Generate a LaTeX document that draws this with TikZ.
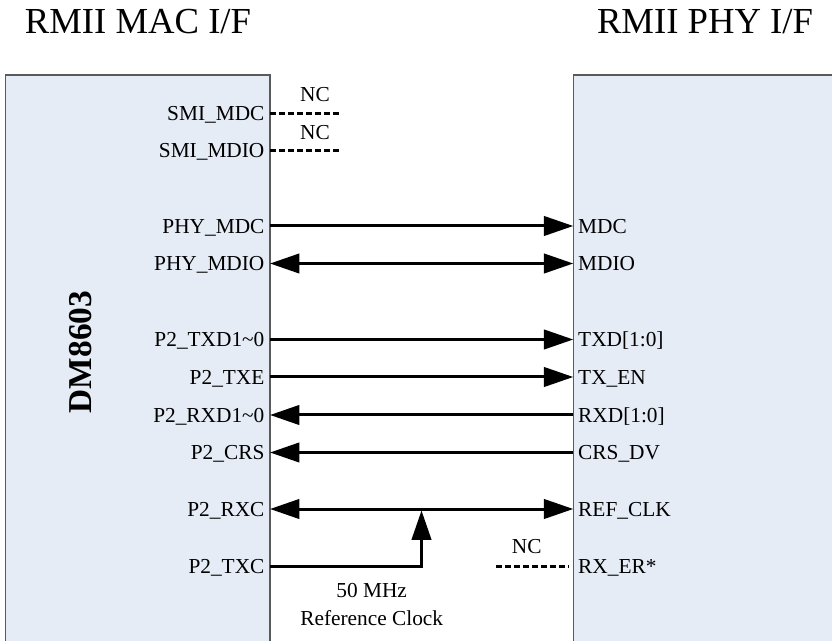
\documentclass[tikz,border=0pt]{standalone}
\usepackage{fontspec}
\setmainfont{Liberation Serif}
\usetikzlibrary{arrows.meta}
\definecolor{chipfill}{HTML}{E5ECF6}
\definecolor{chipline}{HTML}{5A5A5A}
\tikzset{bigtri/.tip={Triangle[length=22pt,width=14.5pt]}}
\begin{document}
\begin{tikzpicture}[x=0.75pt,y=-0.75pt,
    pintext/.style={font=\fontsize{16}{18}\selectfont,text height=10.6pt,text depth=0pt},
    sig/.style={line width=2.25pt,arrows={-bigtri}},
    bisig/.style={line width=2.25pt,arrows={bigtri-bigtri}},
    nc/.style={line width=1.8pt,dash pattern=on 4.5pt off 2.25pt},
    chip/.style={draw=chipline,fill=chipfill,line width=1.1pt,inner sep=0pt}]
  \useasboundingbox (0,0) rectangle (832,641);
  \node[anchor=base,font=\fontsize{27.5}{30}\selectfont] (macT) at (138,33.3) {RMII MAC I/F};
  \node[anchor=base,font=\fontsize{27.5}{30}\selectfont] (phyT) at (705,33.3) {RMII PHY I/F};
  \node[chip,minimum width=198.4pt,minimum height=438.75pt] (mac) at (137.75,367.5) {};
  \node[chip,minimum width=215pt,minimum height=438.75pt] (phy) at (716.65,367.5) {};
  \node[rotate=90,font=\fontsize{25}{28}\selectfont\bfseries] (chipname) at (81,352) {DM8603};
  \begin{scope}[every node/.style={pintext,anchor=east,inner xsep=4pt,inner ysep=0pt}]
    \node (smdcL) at (270,113.5) {SMI\_MDC};
    \node (smdioL) at (270,150.5) {SMI\_MDIO};
    \node (mdcL) at (270,226) {PHY\_MDC};
    \node (mdioL) at (270,263.5) {PHY\_MDIO};
    \node (txdL) at (270,339.5) {P2\_TXD1\textasciitilde 0};
    \node (txeL) at (270,377) {P2\_TXE};
    \node (rxdL) at (270,415) {P2\_RXD1\textasciitilde 0};
    \node (crsL) at (270,452.5) {P2\_CRS};
    \node (rxcL) at (270,509) {P2\_RXC};
    \node (txcL) at (270,566.5) {P2\_TXC};
  \end{scope}
  \begin{scope}[every node/.style={pintext,anchor=west,inner xsep=3.5pt,inner ysep=0pt}]
    \node (mdcR) at (573.3,226) {MDC};
    \node (mdioR) at (573.3,263.5) {MDIO};
    \node (txdR) at (573.3,339.5) {TXD[1:0]};
    \node (txeR) at (573.3,377) {TX\_EN};
    \node (rxdR) at (573.3,415) {RXD[1:0]};
    \node (crsR) at (573.3,452.5) {CRS\_DV};
    \node (clkR) at (573.3,509) {REF\_CLK};
    \node (rxerR) at (573.3,566.5) {RX\_ER*};
  \end{scope}
  \begin{scope}[every node/.style={pintext,inner sep=0pt}]
    \node (nc1) at (315,94) {NC};
    \node (nc2) at (315,132) {NC};
    \node (nc3) at (526.7,546.7) {NC};
    \node (freq) at (371.7,590) {50 MHz};
    \node (refclk) at (371.7,618) {Reference Clock};
  \end{scope}
  \coordinate (smdcE) at (341.7,113.5);
  \coordinate (smdioE) at (341.7,150.5);
  \coordinate (rxerE) at (496,566.5);
  \coordinate (tap) at (421.5,510.5);
  \begin{scope}[every edge/.style={draw}]
    \path (smdcL.east) edge[nc] (smdcE);
    \path (smdioL.east) edge[nc] (smdioE);
    \path (rxerE) edge[nc,shorten >=3.4pt] (rxerR.west);
    \path (mdcL.east) edge[sig] (mdcR.west);
    \path (mdioL.east) edge[bisig] (mdioR.west);
    \path (txdL.east) edge[sig] (txdR.west);
    \path (txeL.east) edge[sig] (txeR.west);
    \path (rxdR.west) edge[sig] (rxdL.east);
    \path (crsR.west) edge[sig] (crsL.east);
    \path (rxcL.east) edge[bisig] (clkR.west);
  \end{scope}
  \draw[sig] (txcL.east) -| (tap);
\end{tikzpicture}
\end{document}
